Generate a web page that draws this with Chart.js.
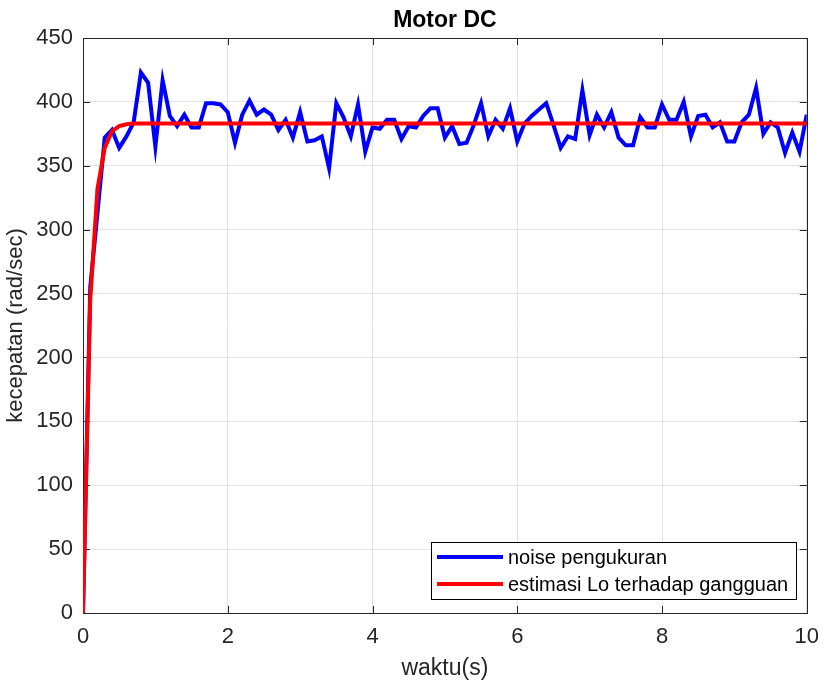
<!DOCTYPE html>
<html>
<head>
<meta charset="utf-8">
<title>Motor DC</title>
<script src="https://cdn.jsdelivr.net/npm/chart.js@4"></script>
<style>
    html, body { margin: 0; padding: 0; background: #fff; }
    #chart-container { width: 830px; height: 689px; }
</style>
</head>
<body>
<div id="chart-container"><canvas id="grafik" width="830" height="689"></canvas></div>
<script>
// waktu (s) untuk sinyal terukur
const waktu = [
    0, 0.1, 0.2, 0.3, 0.4, 0.5, 0.6, 0.7, 0.8, 0.9,
    1, 1.1, 1.2, 1.3, 1.4, 1.5, 1.6, 1.7, 1.8, 1.9,
    2, 2.1, 2.2, 2.3, 2.4, 2.5, 2.6, 2.7, 2.8, 2.9,
    3, 3.1, 3.2, 3.3, 3.4, 3.5, 3.6, 3.7, 3.8, 3.9,
    4, 4.1, 4.2, 4.3, 4.4, 4.5, 4.6, 4.7, 4.8, 4.9,
    5, 5.1, 5.2, 5.3, 5.4, 5.5, 5.6, 5.7, 5.8, 5.9,
    6, 6.1, 6.2, 6.3, 6.4, 6.5, 6.6, 6.7, 6.8, 6.9,
    7, 7.1, 7.2, 7.3, 7.4, 7.5, 7.6, 7.7, 7.8, 7.9,
    8, 8.1, 8.2, 8.3, 8.4, 8.5, 8.6, 8.7, 8.8, 8.9,
    9, 9.1, 9.2, 9.3, 9.4, 9.5, 9.6, 9.7, 9.8, 9.9,
    10
];

// kecepatan terukur (rad/sec) dengan noise
const noisePengukuran = [
    0, 255, 313, 372, 378, 364, 373, 384, 423, 415,
    365, 417, 389, 381, 390, 380, 380, 399, 399, 398,
    392, 368, 390, 401, 390, 394, 390, 378, 386, 372,
    392, 369, 370, 373, 348, 399, 388, 373, 398, 361,
    380, 379, 386, 386, 371, 381, 380, 389, 395, 395,
    372, 381, 367, 368, 382, 399, 373, 386, 379, 395,
    369, 383, 389, 394, 399, 382, 364, 373, 371, 409,
    374, 390, 380, 392, 372, 366, 366, 388, 380, 380,
    398, 386, 386, 400, 373, 389, 390, 380, 384, 369,
    369, 384, 390, 411, 375, 384, 380, 360, 376, 361,
    390
];

// estimasi observer
const waktuEstimasi = [0, 0.1, 0.2, 0.3, 0.4, 0.5, 0.6, 0.7, 10];
const estimasiLo = [0, 245, 332, 364, 377, 381, 382.5, 383, 383];

const xTicks = [0, 2, 4, 6, 8, 10];
const yTicks = [0, 50, 100, 150, 200, 250, 300, 350, 400, 450];

const judul = 'Motor DC';
const labelSeri = ['noise pengukuran', 'estimasi Lo terhadap gangguan'];
const warnaSeri = ['#0000ff', '#ff0000'];

const FONT = "'Liberation Sans', Arial, Helvetica, sans-serif";
const WARNA_SUMBU = '#262626';

function gabung(xs, ys) {
    return xs.map((x, i) => ({ x: x, y: ys[i] }));
}

// kotak sumbu dan tick ke dalam ala MATLAB
const kotakPlugin = {
    id: 'kotak',
    beforeDatasetsDraw(chart) {
        const { ctx, chartArea: a, scales } = chart;
        const len = 7;
        ctx.save();
        ctx.strokeStyle = WARNA_SUMBU;
        ctx.lineWidth = 1;
        ctx.beginPath();
        xTicks.forEach(v => {
            const px = Math.round(scales.x.getPixelForValue(v)) + 0.5;
            ctx.moveTo(px, a.bottom); ctx.lineTo(px, a.bottom - len);
            ctx.moveTo(px, a.top); ctx.lineTo(px, a.top + len);
        });
        yTicks.forEach(v => {
            const py = Math.round(scales.y.getPixelForValue(v)) + 0.5;
            ctx.moveTo(a.left, py); ctx.lineTo(a.left + len, py);
            ctx.moveTo(a.right, py); ctx.lineTo(a.right - len, py);
        });
        ctx.stroke();
        ctx.strokeRect(Math.round(a.left) + 0.5, Math.round(a.top) + 0.5,
            Math.round(a.right - a.left), Math.round(a.bottom - a.top));

        // judul di tengah area plot
        ctx.fillStyle = '#000';
        ctx.font = 'bold 23px ' + FONT;
        ctx.textAlign = 'center';
        ctx.textBaseline = 'middle';
        ctx.fillText(judul, (a.left + a.right) / 2, 21);
        ctx.restore();
    }
};

// legenda di pojok kanan bawah
const legendaPlugin = {
    id: 'legenda',
    afterDraw(chart) {
        const { ctx, chartArea: a } = chart;
        ctx.save();
        ctx.font = '20px ' + FONT;
        const tw = Math.max(...chart.data.datasets.map(d => ctx.measureText(d.label).width));
        const w = Math.round(6 + 66 + 5 + tw + 8);
        const h = 57;
        const right = Math.round(a.right) - 11;
        const bottom = Math.round(a.bottom) - 14;
        const left = right - w;
        const top = bottom - h;
        ctx.fillStyle = '#fff';
        ctx.fillRect(left, top, w, h);
        ctx.strokeStyle = '#000';
        ctx.lineWidth = 1;
        ctx.strokeRect(left + 0.5, top + 0.5, w, h);
        chart.data.datasets.forEach((d, i) => {
            const y = top + 15 + i * 27;
            ctx.strokeStyle = d.borderColor;
            ctx.lineWidth = 4;
            ctx.beginPath();
            ctx.moveTo(left + 6, y);
            ctx.lineTo(left + 72, y);
            ctx.stroke();
            ctx.fillStyle = '#000';
            ctx.textBaseline = 'middle';
            ctx.fillText(d.label, left + 77, y + 1);
        });
        ctx.restore();
    }
};

new Chart(document.getElementById('grafik'), {
    type: 'line',
    data: {
        datasets: [{
            label: labelSeri[0],
            data: gabung(waktu, noisePengukuran),
            borderColor: warnaSeri[0],
            borderWidth: 4,
            pointRadius: 0,
            tension: 0,
            order: 2
        }, {
            label: labelSeri[1],
            data: gabung(waktuEstimasi, estimasiLo),
            borderColor: warnaSeri[1],
            borderWidth: 4,
            pointRadius: 0,
            tension: 0,
            order: 1
        }]
    },
    options: {
        responsive: false,
        maintainAspectRatio: false,
        animation: false,
        layout: { padding: { left: 0, right: 22, top: 38, bottom: 0 } },
        plugins: {
            legend: { display: false },
            tooltip: { enabled: false },
            title: { display: false }
        },
        scales: {
            x: {
                type: 'linear',
                min: 0,
                max: 10,
                afterFit(scale) { scale.height = 76; },
                afterBuildTicks(scale) { scale.ticks = xTicks.map(v => ({ value: v })); },
                ticks: {
                    color: WARNA_SUMBU,
                    font: { family: FONT, size: 22 },
                    padding: 11,
                    maxRotation: 0
                },
                grid: { color: '#e3e3e3', drawTicks: false },
                border: { display: false },
                title: {
                    display: true,
                    text: 'waktu(s)',
                    color: WARNA_SUMBU,
                    font: { family: FONT, size: 23, lineHeight: 1 },
                    padding: { top: 0, bottom: 9 }
                }
            },
            y: {
                type: 'linear',
                min: 0,
                max: 450,
                afterFit(scale) { scale.width = 83; },
                afterBuildTicks(scale) { scale.ticks = yTicks.map(v => ({ value: v })); },
                ticks: {
                    color: WARNA_SUMBU,
                    font: { family: FONT, size: 22 },
                    padding: 10
                },
                grid: { color: '#e3e3e3', drawTicks: false },
                border: { display: false },
                title: {
                    display: true,
                    text: 'kecepatan (rad/sec)',
                    color: WARNA_SUMBU,
                    font: { family: FONT, size: 22, lineHeight: 1 },
                    padding: { top: 5, bottom: 0 }
                }
            }
        }
    },
    plugins: [kotakPlugin, legendaPlugin]
});
</script>
</body>
</html>
